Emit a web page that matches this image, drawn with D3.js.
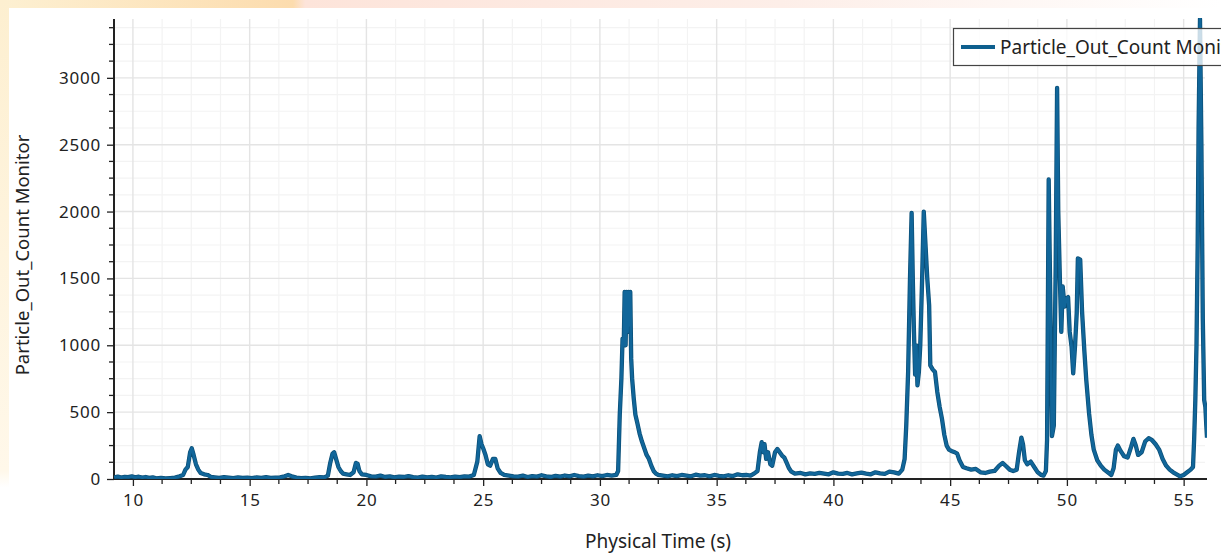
<!DOCTYPE html>
<html><head><meta charset="utf-8">
<script src="https://cdn.jsdelivr.net/npm/d3@7"></script>
<style>html,body{margin:0;padding:0;background:#fff;overflow:hidden}</style>
</head><body>
<svg id="chart" width="1221" height="554"></svg>
<script>
const seriesName = "Particle_Out_Count Monitor";
const xTitle = "Physical Time (s)";
const yTitle = "Particle_Out_Count Monitor";
const xTickValues = [10, 15, 20, 25, 30, 35, 40, 45, 50, 55];
const yTickValues = [0, 500, 1000, 1500, 2000, 2500, 3000];
const xDomain = [9.19, 56.0];
const yDomain = [0, 3440];

const times = [
 9.2,9.35,9.5,9.65,9.8,9.95,10.1,10.25,10.4,10.55,10.7,10.85,11.0,11.2,11.4,11.6,11.8,12.0,12.15,12.25,12.35,12.45,12.52,12.6,12.7,12.8,12.9,13.05,13.2,13.35,13.5,13.7,13.9,14.1,14.3,14.5,14.7,14.9,15.1,15.3,15.5,15.7,15.9,16.1,16.3,16.5,16.65,16.8,17.0,17.2,17.4,17.6,17.8,18.0,18.2,18.35,18.45,18.55,18.62,18.7,18.8,18.9,19.0,19.15,19.3,19.45,19.55,19.62,19.7,19.8,20.0,20.2,20.4,20.6,20.8,21.0,21.2,21.4,21.6,21.8,22.0,22.2,22.4,22.6,22.8,23.0,23.2,23.4,23.6,23.8,24.0,24.2,24.4,24.6,24.75,24.85,24.93,25.0,25.1,25.2,25.3,25.42,25.52,25.62,25.75,25.9,26.1,26.3,
 26.5,26.7,26.9,27.1,27.3,27.5,27.7,27.9,28.1,28.3,28.5,28.7,28.9,29.1,29.3,29.5,29.7,29.9,30.1,30.3,30.5,30.7,30.78,30.85,30.92,30.97,31.02,31.06,31.1,31.14,31.18,31.22,31.26,31.3,31.34,31.38,31.45,31.52,31.6,31.7,31.8,31.9,32.0,32.1,32.2,32.3,32.4,32.5,32.7,
 32.9,33.1,33.3,33.5,33.7,33.9,34.1,34.3,34.5,34.7,34.9,35.1,35.3,35.5,35.7,35.9,36.1,36.3,36.45,36.6,36.75,36.85,36.93,37.0,37.05,37.12,37.2,37.3,37.38,37.5,37.6,37.7,37.8,37.9,38.0,38.1,38.2,38.35,38.6,
 38.8,39.0,39.2,39.4,39.6,39.8,40.0,40.2,40.4,40.6,40.8,41.0,41.2,41.4,41.6,41.8,42.0,42.2,42.4,42.6,42.8,42.95,43.05,43.12,43.2,43.28,43.35,43.4,43.45,43.5,43.55,43.6,43.66,43.72,43.8,43.87,43.93,44.02,44.1,44.15,44.25,44.35,44.45,44.55,44.65,44.75,44.85,44.95,45.05,45.2,45.3,45.4,45.55,45.7,45.9,46.1,46.3,46.5,46.7,46.9,47.1,47.25,47.4,47.55,47.7,47.85,47.95,48.05,48.12,48.2,48.3,48.45,48.6,48.75,48.9,49.0,
 49.1,49.15,49.22,49.3,49.36,49.44,49.52,49.58,49.63,49.7,49.76,49.82,49.9,49.97,50.05,50.12,50.2,50.27,50.35,50.42,50.47,50.57,50.65,50.75,50.83,50.95,51.05,51.15,51.3,51.45,51.6,51.75,51.9,52.0,52.1,52.18,52.3,52.45,52.6,52.75,52.85,52.95,53.05,53.2,53.35,53.5,53.65,53.8,53.95,54.1,54.25,54.4,54.55,54.7,54.85,55.0,55.15,55.3,55.4,55.45,55.5,55.55,55.6,55.64,55.7,55.76,55.82,55.88,55.93,55.97,56.0
];
const counts = [
 12,18,10,16,14,20,12,17,10,15,8,12,5,8,4,7,10,20,30,70,90,200,230,180,110,70,45,35,30,15,12,8,14,10,6,12,8,10,6,12,9,14,8,10,12,20,30,20,10,6,8,5,10,14,12,25,120,190,200,150,90,60,40,35,30,50,120,115,60,35,30,20,18,25,15,20,12,18,15,22,14,10,18,12,16,10,20,15,12,18,14,20,18,30,130,320,260,230,180,110,100,150,150,80,45,30,25,20,
 18,25,15,22,18,28,20,15,24,18,26,20,30,22,18,25,20,28,22,30,25,30,60,480,750,1050,1000,1400,1000,1400,1100,1400,1150,1400,900,750,600,480,420,340,280,230,180,150,100,60,40,30,25,
 20,28,22,30,25,20,32,25,28,20,30,24,20,28,22,35,28,30,25,40,60,200,275,200,260,150,200,110,100,200,225,200,175,160,120,80,55,40,45,
 35,42,38,45,40,35,50,40,38,45,35,42,48,40,35,50,42,38,55,50,40,70,150,400,800,1500,1990,1500,1100,780,1000,700,800,1000,1500,2000,1800,1500,1300,850,820,800,650,540,450,330,250,220,210,200,190,140,90,80,70,75,50,45,55,60,100,120,95,70,60,70,200,310,260,140,110,130,90,50,30,25,
 60,290,2240,1200,320,400,1600,2925,2000,1490,1100,1440,1290,1350,1360,1100,990,790,1000,1240,1650,1640,1250,950,740,490,330,220,140,100,70,50,30,80,220,250,210,170,160,240,300,250,180,200,280,305,290,260,220,150,100,70,50,35,20,30,50,70,90,300,590,1000,1740,2630,3440,2500,1200,590,540,400,310
];

const data = times.map((t, i) => ({t, v: counts[i]}));

const W = 1221, H = 554;
const plot = {left: 114, right: 1207, top: 19, bottom: 479};
const svg = d3.select("#chart");

// background frame
const defs = svg.append("defs");
const gTop = defs.append("linearGradient").attr("id", "gTop").attr("x1", 0).attr("x2", 1).attr("y1", 0).attr("y2", 0);
gTop.append("stop").attr("offset", "0%").attr("stop-color", "#fdf0d2");
gTop.append("stop").attr("offset", "24%").attr("stop-color", "#fcdcae");
gTop.append("stop").attr("offset", "25%").attr("stop-color", "#fde4da");
gTop.append("stop").attr("offset", "64%").attr("stop-color", "#fdeee8");
gTop.append("stop").attr("offset", "100%").attr("stop-color", "#ffffff");
svg.append("rect").attr("x", 0).attr("y", 0).attr("width", W).attr("height", 8).attr("fill", "url(#gTop)");
const gLeft = defs.append("linearGradient").attr("id", "gLeft").attr("x1", 0).attr("x2", 0).attr("y1", 0).attr("y2", 1);
gLeft.append("stop").attr("offset", "0%").attr("stop-color", "#fdefd0");
gLeft.append("stop").attr("offset", "85%").attr("stop-color", "#fff8ea");
gLeft.append("stop").attr("offset", "88%").attr("stop-color", "#ffffff");
svg.append("rect").attr("x", 0).attr("y", 0).attr("width", 9).attr("height", H).attr("fill", "url(#gLeft)");
svg.append("rect").attr("x", 9).attr("y", 8).attr("width", W - 9).attr("height", H - 8).attr("fill", "#ffffff");

const x = d3.scaleLinear().domain(xDomain).range([plot.left, plot.right]);
const y = d3.scaleLinear().domain(yDomain).range([plot.bottom, plot.top]);

const xMinor = d3.range(0, 60, 1.25).filter(v => v >= xDomain[0] && v <= xDomain[1] && !xTickValues.includes(v));
const yMinor = d3.range(0, 3500, 125).filter(v => v >= yDomain[0] && v <= yDomain[1] && !yTickValues.includes(v));

// grid
const grid = svg.append("g");
grid.selectAll(".vmin").data(xMinor).join("line")
  .attr("x1", d => x(d)).attr("x2", d => x(d)).attr("y1", plot.top).attr("y2", plot.bottom)
  .attr("stroke", "#f3f3f3").attr("stroke-width", 1.2);
grid.selectAll(".hmin").data(yMinor).join("line")
  .attr("x1", plot.left).attr("x2", plot.right - 2).attr("y1", d => y(d)).attr("y2", d => y(d))
  .attr("stroke", "#f3f3f3").attr("stroke-width", 1.2);
grid.selectAll(".vmaj").data(xTickValues).join("line")
  .attr("x1", d => x(d)).attr("x2", d => x(d)).attr("y1", plot.top).attr("y2", plot.bottom)
  .attr("stroke", "#e4e4e4").attr("stroke-width", 1.4);
grid.selectAll(".hmaj").data(yTickValues.filter(v => v > 0)).join("line")
  .attr("x1", plot.left).attr("x2", plot.right - 2).attr("y1", d => y(d)).attr("y2", d => y(d))
  .attr("stroke", "#e4e4e4").attr("stroke-width", 1.4);

// axes
const fontFam = "'Noto Sans', 'DejaVu Sans', sans-serif";
const xAxis = svg.append("g").attr("transform", `translate(0,${plot.bottom})`)
  .call(d3.axisBottom(x).tickValues(xTickValues).tickSize(7).tickPadding(8).tickFormat(d3.format("d")));
xAxis.append("g").selectAll("line").data(xMinor).join("line")
  .attr("x1", d => x(d)).attr("x2", d => x(d)).attr("y1", 0).attr("y2", 5).attr("stroke", "#222").attr("stroke-width", 1.3);
const yAxis = svg.append("g").attr("transform", `translate(${plot.left},0)`)
  .call(d3.axisLeft(y).tickValues(yTickValues).tickSize(7).tickPadding(6).tickFormat(d3.format("d")));
yAxis.append("g").selectAll("line").data(yMinor).join("line")
  .attr("y1", d => y(d)).attr("y2", d => y(d)).attr("x1", 0).attr("x2", -5).attr("stroke", "#222").attr("stroke-width", 1.3);
[xAxis, yAxis].forEach(a => {
  a.select(".domain").attr("stroke", "#222").attr("stroke-width", 2);
  a.selectAll(".tick line").attr("stroke", "#222").attr("stroke-width", 1.3);
  a.selectAll(".tick text").attr("fill", "#222").style("font-family", fontFam).style("font-size", "17px").style("letter-spacing", "0.8px");
});
xAxis.select(".domain").attr("d", `M${plot.left},0H${plot.right}`);
yAxis.select(".domain").attr("d", `M0,${plot.top}V${plot.bottom}`);

// clip
defs.append("clipPath").attr("id", "clip").append("rect")
  .attr("x", plot.left).attr("y", plot.top - 1).attr("width", plot.right - plot.left).attr("height", plot.bottom - plot.top + 1);

const line = d3.line().x(d => x(d.t)).y(d => y(d.v));
const lg = svg.append("g").attr("clip-path", "url(#clip)");
lg.append("path").datum(data).attr("d", line).attr("fill", "none")
  .attr("stroke", "#0b4f77").attr("stroke-width", 4.3).attr("stroke-linejoin", "round");
lg.append("path").datum(data).attr("d", line).attr("fill", "none")
  .attr("stroke", "#11669a").attr("stroke-width", 2.8).attr("stroke-linejoin", "round");

// axis titles
svg.append("text").attr("x", 658).attr("y", 548).attr("text-anchor", "middle")
  .style("font-family", fontFam).style("font-size", "19px").attr("fill", "#222").text(xTitle);
svg.append("text").attr("transform", "translate(29,255) rotate(-90)").attr("text-anchor", "middle")
  .style("font-family", fontFam).style("font-size", "18.5px").attr("fill", "#222").text(yTitle);

// legend (clipped by the right edge, as in the reference)
const leg = svg.append("g");
leg.append("rect").attr("x", 953.5).attr("y", 28.5).attr("width", 300).attr("height", 37)
  .attr("fill", "#ffffff").attr("fill-opacity", 0.78).attr("stroke", "#444").attr("stroke-width", 1.2);
leg.append("line").attr("x1", 961).attr("x2", 995).attr("y1", 47).attr("y2", 47)
  .attr("stroke", "#0e5f8e").attr("stroke-width", 4);
leg.append("text").attr("x", 1000).attr("y", 53.5).style("font-family", fontFam).style("font-size", "19px")
  .attr("fill", "#222").text(seriesName);
</script>
</body></html>
